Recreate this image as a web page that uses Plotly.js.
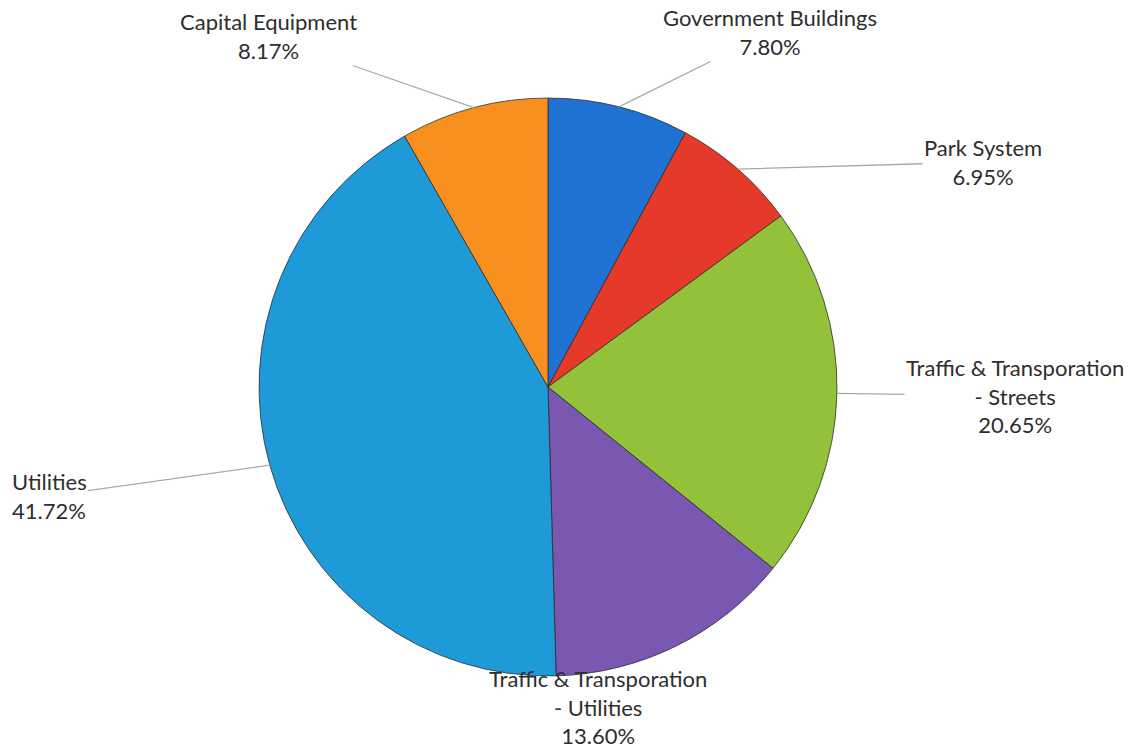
<!DOCTYPE html>
<html>
<head>
<meta charset="utf-8">
<script src="https://cdn.plot.ly/plotly-3.0.1.min.js"></script>
<style>html,body{margin:0;padding:0;background:#fff;}#chart{width:1141px;height:752px;}</style>
</head>
<body>
<div id="chart"></div>
<script>
// Data
const categories = [
  "Government Buildings",
  "Park System",
  "Traffic & Transporation<br>- Streets",
  "Traffic & Transporation<br>- Utilities",
  "Utilities",
  "Capital Equipment"
];
const percentLabels = ["7.80%", "6.95%", "20.65%", "13.60%", "41.72%", "8.17%"];
const values = [7.80, 6.95, 20.65, 13.60, 41.72, 8.17];
const colors = ["#1f72d2", "#e53a2a", "#94c13a", "#7a57b0", "#1e9ad8", "#f7901e"];

// Layout / style (pixel positions of label text centres)
const W = 1141, H = 752;
const cx = 548, cy = 387, R = 289;
const labelPos = [
  {x: 770, y: 32, arrow: true},
  {x: 983, y: 162, arrow: true},
  {x: 1015, y: 396, arrow: true},
  {x: 598, y: 707, arrow: false},
  {x: 49, y: 496, arrow: true},
  {x: 268, y: 36, arrow: true}
];
const labelFont = {family: "Lato, 'Open Sans', sans-serif", size: 22, color: "#2e2e2e"};

const total = values.reduce((a, b) => a + b, 0);
let cum = 0;
const annotations = values.map((v, i) => {
  const mid = (cum + v / 2) / total * 2 * Math.PI;
  cum += v;
  const hx = cx + R * Math.sin(mid);
  const hy = cy - R * Math.cos(mid);
  const lp = labelPos[i];
  const txt = categories[i] + "<br>" + percentLabels[i];
  if (lp.arrow) {
    return {
      xref: "paper", yref: "paper",
      x: hx / W, y: 1 - hy / H,
      ax: lp.x - hx, ay: lp.y - hy,
      text: txt, showarrow: true, arrowhead: 0, arrowwidth: 1.3,
      arrowcolor: "#a8a8a8", standoff: 0, startstandoff: 0,
      font: labelFont,
      align: i === 4 ? "left" : "center"
    };
  }
  return {
    xref: "paper", yref: "paper", x: lp.x / W, y: 1 - lp.y / H,
    xanchor: "center", yanchor: "middle",
    text: txt, showarrow: false,
    font: labelFont,
    align: "center"
  };
});

const trace = {
  type: "pie",
  labels: categories,
  values: values,
  sort: false,
  direction: "clockwise",
  rotation: 0,
  textinfo: "none",
  hoverinfo: "label+percent",
  marker: {colors: colors, line: {color: "rgba(40,40,40,0.75)", width: 1}},
  domain: {x: [(cx - R) / W, (cx + R) / W], y: [1 - (cy + R) / H, 1 - (cy - R) / H]}
};

Plotly.newPlot("chart", [trace], {
  width: W, height: H,
  margin: {l: 0, r: 0, t: 0, b: 0},
  showlegend: false,
  paper_bgcolor: "#ffffff",
  annotations: annotations
}, {displayModeBar: false, staticPlot: true});
</script>
</body>
</html>
